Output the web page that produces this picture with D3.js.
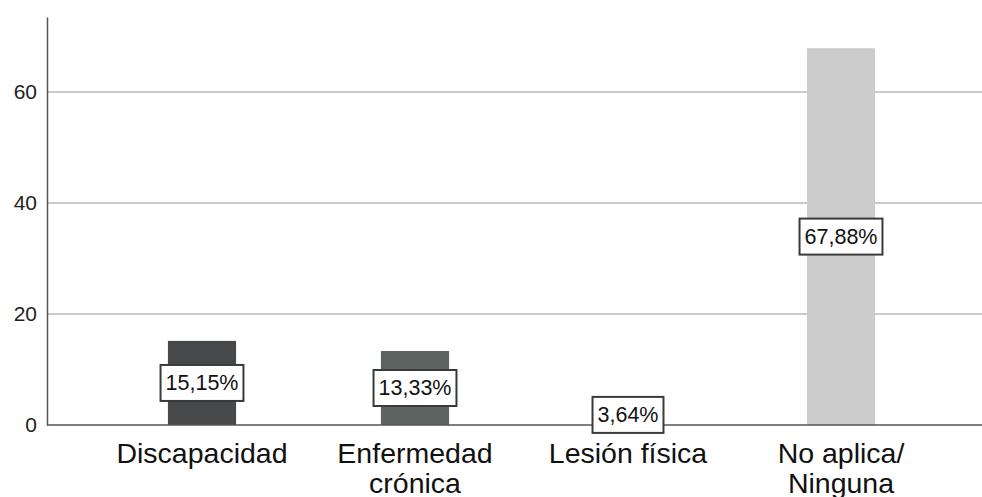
<!DOCTYPE html>
<html>
<head>
<meta charset="utf-8">
<script src="https://cdn.jsdelivr.net/npm/d3@7/dist/d3.min.js"></script>
<style>
  html, body { margin: 0; padding: 0; background: #fff; }
  svg { display: block; font-family: "Liberation Sans", Arial, sans-serif; }
</style>
</head>
<body>
<svg id="chart" width="982" height="497"></svg>
<script>
// Categories (multi-line labels) and percentage values
const categories = ["Discapacidad", "Enfermedad crónica", "Lesión física", "No aplica/ Ninguna"];
const categoryLines = [["Discapacidad"], ["Enfermedad", "crónica"], ["Lesión física"], ["No aplica/", "Ninguna"]];
const values = [15.15, 13.33, 3.64, 67.88];
const valueLabels = ["15,15%", "13,33%", "3,64%", "67,88%"];
const barColors = ["#47484a", "#5b6460", "#8d918e", "#cccccc"];
const yTicks = [0, 20, 40, 60];

const svg = d3.select("#chart");
const plotLeft = 47, plotRight = 982, plotTop = 17, plotBottom = 425;

const y = d3.scaleLinear().domain([0, 73.5]).range([plotBottom, plotTop]);
const x = d3.scaleBand()
  .domain(categories)
  .range([95.5, 947.5])
  .paddingInner(0.68)
  .paddingOuter(0.34);

// Horizontal gridlines
svg.append("g")
  .selectAll("line")
  .data(yTicks.filter(d => d > 0))
  .join("line")
  .attr("x1", plotLeft).attr("x2", plotRight)
  .attr("y1", d => y(d)).attr("y2", d => y(d))
  .attr("stroke", "#b9b9b9")
  .attr("stroke-width", 1.5);

// Bars
svg.append("g")
  .selectAll("rect")
  .data(values)
  .join("rect")
  .attr("x", (d, i) => x(categories[i]))
  .attr("width", x.bandwidth())
  .attr("y", d => y(d))
  .attr("height", d => y(0) - y(d))
  .attr("fill", (d, i) => barColors[i]);

// Y axis
const yAxis = d3.axisLeft(y).tickValues(yTicks).tickSize(0).tickPadding(10).tickFormat(d3.format("d"));
const gy = svg.append("g").attr("transform", `translate(${plotLeft},0)`).call(yAxis);
gy.select(".domain").attr("stroke", "#555").attr("stroke-width", 1.5);
gy.selectAll("text").attr("font-size", 21).attr("fill", "#222")
  .attr("font-family", "Liberation Sans, Arial, sans-serif");

// X baseline
svg.append("line")
  .attr("x1", plotLeft).attr("x2", plotRight)
  .attr("y1", y(0)).attr("y2", y(0))
  .attr("stroke", "#555").attr("stroke-width", 1.5);

// Category labels
const catG = svg.append("g");
categoryLines.forEach((lines, i) => {
  const cx = x(categories[i]) + x.bandwidth() / 2;
  const t = catG.append("text")
    .attr("x", cx).attr("y", 463)
    .attr("text-anchor", "middle")
    .attr("font-size", 28.5)
    .attr("fill", "#111");
  lines.forEach((ln, j) => {
    t.append("tspan").attr("x", cx).attr("y", 463 + j * 29.5).text(ln);
  });
});

// Value labels in boxes at bar midpoints
const lblG = svg.append("g");
values.forEach((v, i) => {
  const cx = x(categories[i]) + x.bandwidth() / 2;
  const cy = y(v / 2);
  const g = lblG.append("g");
  const t = g.append("text")
    .attr("x", cx).attr("y", cy)
    .attr("text-anchor", "middle")
    .attr("dominant-baseline", "central")
    .attr("font-size", 21.5)
    .attr("fill", "#111")
    .text(valueLabels[i]);
  const w = t.node().getComputedTextLength();
  g.insert("rect", "text")
    .attr("x", cx - w / 2 - 5)
    .attr("y", cy - 18)
    .attr("width", w + 10)
    .attr("height", 36)
    .attr("fill", "#fff")
    .attr("stroke", "#3a3a3a")
    .attr("stroke-width", 2);
});
</script>
</body>
</html>
